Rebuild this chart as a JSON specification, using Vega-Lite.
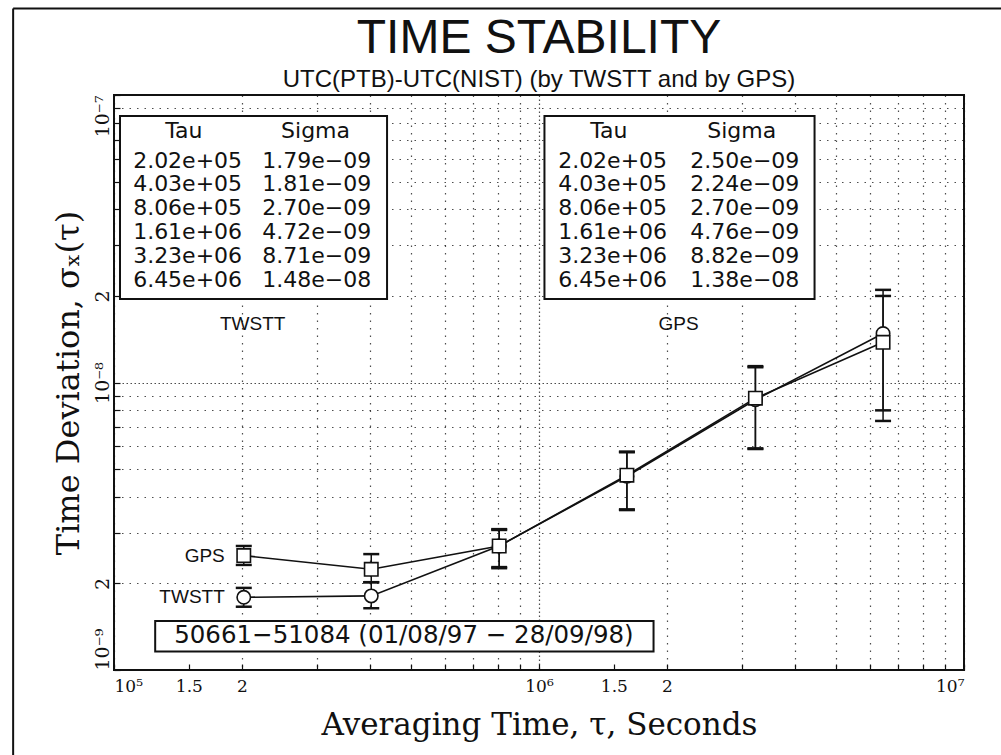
{
  "$schema": "https://vega.github.io/schema/vega-lite/v6.json",
  "width": 850,
  "height": 575,
  "autosize": {"type": "none"},
  "padding": {"left": 114, "top": 95, "right": 37, "bottom": 85},
  "background": "white",
  "config": {
    "view": {"stroke": "#111", "strokeWidth": 2},
    "font": "Liberation Sans"
  },
  "title": {
    "text": "TIME STABILITY",
    "subtitle": "UTC(PTB)-UTC(NIST) (by TWSTT and by GPS)",
    "anchor": "middle",
    "font": "Liberation Sans",
    "fontSize": 48,
    "fontWeight": "normal",
    "color": "#111",
    "subtitleFont": "Liberation Sans",
    "subtitleFontSize": 24,
    "subtitleColor": "#111",
    "offset": -85,
    "subtitlePadding": 5
  },
  "datasets": {
    "stab": [
      {"series": "TWSTT", "tau": 202000, "sigma": 1.79e-9, "lo": 1.66e-9, "hi": 1.93e-9},
      {"series": "TWSTT", "tau": 403000, "sigma": 1.81e-9, "lo": 1.64e-9, "hi": 2.02e-9},
      {"series": "TWSTT", "tau": 806000, "sigma": 2.70e-9, "lo": 2.28e-9, "hi": 3.07e-9},
      {"series": "TWSTT", "tau": 1610000, "sigma": 4.72e-9, "lo": 3.62e-9, "hi": 5.72e-9},
      {"series": "TWSTT", "tau": 3230000, "sigma": 8.71e-9, "lo": 5.9e-9, "hi": 1.13e-8},
      {"series": "TWSTT", "tau": 6450000, "sigma": 1.48e-8, "lo": 7.35e-9, "hi": 2.1e-8},
      {"series": "GPS", "tau": 202000, "sigma": 2.50e-9, "lo": 2.32e-9, "hi": 2.70e-9},
      {"series": "GPS", "tau": 403000, "sigma": 2.24e-9, "lo": 2.02e-9, "hi": 2.53e-9},
      {"series": "GPS", "tau": 806000, "sigma": 2.70e-9, "lo": 2.26e-9, "hi": 3.09e-9},
      {"series": "GPS", "tau": 1610000, "sigma": 4.76e-9, "lo": 3.60e-9, "hi": 5.75e-9},
      {"series": "GPS", "tau": 3230000, "sigma": 8.82e-9, "lo": 5.87e-9, "hi": 1.14e-8},
      {"series": "GPS", "tau": 6450000, "sigma": 1.38e-8, "lo": 8.0e-9, "hi": 2.0e-8}
    ],
    "frameLeft": [
      {"tau": 57900, "sigma": 2.0e-7, "sigma2": 5.0e-10}
    ],
    "frameTop": [
      {"tau": 57900, "tau2": 12300000, "sigma": 2.0e-7}
    ],
    "boxes": [
      {"name": "TWSTT table", "tau": 103300, "tau2": 439000, "sigma": 8.45e-8, "sigma2": 1.95e-8},
      {"name": "GPS table", "tau": 1030000, "tau2": 4450000, "sigma": 8.45e-8, "sigma2": 1.95e-8},
      {"name": "period", "tau": 125000, "tau2": 1860000, "sigma": 1.48e-9, "sigma2": 1.16e-9}
    ],
    "tables": [
      {"text": "Tau", "tau": 146000, "sigma": 7.09e-8},
      {"text": "Sigma", "tau": 298000, "sigma": 7.09e-8},
      {"text": "2.02e+05", "tau": 149000, "sigma": 5.57e-8},
      {"text": "4.03e+05", "tau": 149000, "sigma": 4.64e-8},
      {"text": "8.06e+05", "tau": 149000, "sigma": 3.83e-8},
      {"text": "1.61e+06", "tau": 149000, "sigma": 3.16e-8},
      {"text": "3.23e+06", "tau": 149000, "sigma": 2.60e-8},
      {"text": "6.45e+06", "tau": 149000, "sigma": 2.15e-8},
      {"text": "1.79e−09", "tau": 300000, "sigma": 5.57e-8},
      {"text": "1.81e−09", "tau": 300000, "sigma": 4.64e-8},
      {"text": "2.70e−09", "tau": 300000, "sigma": 3.83e-8},
      {"text": "4.72e−09", "tau": 300000, "sigma": 3.16e-8},
      {"text": "8.71e−09", "tau": 300000, "sigma": 2.60e-8},
      {"text": "1.48e−08", "tau": 300000, "sigma": 2.15e-8},
      {"text": "Tau", "tau": 1460000, "sigma": 7.09e-8},
      {"text": "Sigma", "tau": 3000000, "sigma": 7.09e-8},
      {"text": "2.02e+05", "tau": 1490000, "sigma": 5.57e-8},
      {"text": "4.03e+05", "tau": 1490000, "sigma": 4.64e-8},
      {"text": "8.06e+05", "tau": 1490000, "sigma": 3.83e-8},
      {"text": "1.61e+06", "tau": 1490000, "sigma": 3.16e-8},
      {"text": "3.23e+06", "tau": 1490000, "sigma": 2.60e-8},
      {"text": "6.45e+06", "tau": 1490000, "sigma": 2.15e-8},
      {"text": "2.50e−09", "tau": 3050000, "sigma": 5.57e-8},
      {"text": "2.24e−09", "tau": 3050000, "sigma": 4.64e-8},
      {"text": "2.70e−09", "tau": 3050000, "sigma": 3.83e-8},
      {"text": "4.76e−09", "tau": 3050000, "sigma": 3.16e-8},
      {"text": "8.82e−09", "tau": 3050000, "sigma": 2.60e-8},
      {"text": "1.38e−08", "tau": 3050000, "sigma": 2.15e-8}
    ],
    "period": [
      {"text": "50661−51084 (01/08/97 − 28/09/98)", "tau": 481000, "sigma": 1.31e-9}
    ],
    "captions": [
      {"text": "TWSTT", "tau": 212000, "sigma": 1.52e-8},
      {"text": "GPS", "tau": 2130000, "sigma": 1.52e-8}
    ]
  },
  "encoding": {
    "x": {
      "field": "tau",
      "type": "quantitative",
      "scale": {"type": "log", "domain": [100000, 10000000]},
      "axis": {
        "title": "Averaging Time, τ, Seconds",
        "titleFont": "DejaVu Serif",
        "titleFontSize": 31,
        "titleFontWeight": "normal",
        "titleColor": "#111",
        "titlePadding": 16,
        "values": [100000, 150000, 200000, 300000, 400000, 500000, 600000, 700000, 800000, 900000, 1000000, 1500000, 2000000, 3000000, 4000000, 5000000, 6000000, 7000000, 8000000, 9000000, 10000000],
        "labelExpr": "datum.value == 100000 ? '10⁵' : datum.value == 1000000 ? '10⁶' : datum.value == 10000000 ? '10⁷' : (datum.value == 150000 || datum.value == 1500000) ? '1.5' : (datum.value == 200000 || datum.value == 2000000) ? '2' : ''",
        "labelFont": "DejaVu Serif",
        "labelFontSize": 17,
        "labelColor": "#111",
        "labelFlush": true,
        "labelPadding": 14,
        "domain": false,
        "ticks": true,
        "tickSize": -6,
        "tickColor": "#111",
        "tickWidth": 1.2,
        "grid": true,
        "gridColor": "#111",
        "gridWidth": 1.2,
        "gridOpacity": {"condition": {"test": "datum.value == 150000 || datum.value == 1500000", "value": 0}, "value": 0.75},
        "gridDash": {"condition": {"test": "datum.value == 1000000", "value": [1.5, 2.5]}, "value": [1.5, 6]}
      }
    },
    "y": {
      "field": "sigma",
      "type": "quantitative",
      "scale": {"type": "log", "domain": [1e-9, 1e-7]},
      "axis": {
        "title": "Time Deviation, σₓ(τ)",
        "titleFont": "DejaVu Serif",
        "titleFontSize": 32,
        "titleFontWeight": "normal",
        "titleColor": "#111",
        "titlePadding": 8,
        "values": [1e-9, 2e-9, 3e-9, 4e-9, 5e-9, 6e-9, 7e-9, 8e-9, 9e-9, 1e-8, 2e-8, 3e-8, 4e-8, 5e-8, 6e-8, 7e-8, 8e-8, 9e-8, 1e-7],
        "labelExpr": "datum.value == 1e-9 ? '10⁻⁹' : datum.value == 1e-8 ? '10⁻⁸' : datum.value == 1e-7 ? '10⁻⁷' : (datum.value == 2e-9 || datum.value == 2e-8) ? '2' : ''",
        "labelFont": "DejaVu Serif",
        "labelFontSize": 19,
        "labelColor": "#111",
        "labelAngle": 270,
        "labelBaseline": "bottom",
        "labelAlign": {"condition": [{"test": "datum.value == 1e-9", "value": "left"}, {"test": "datum.value == 1e-7", "value": "right"}], "value": "center"},
        "labelPadding": 8,
        "domain": false,
        "ticks": true,
        "tickSize": -6,
        "tickColor": "#111",
        "tickWidth": 1.2,
        "grid": true,
        "gridColor": "#111",
        "gridWidth": 1.2,
        "gridOpacity": 0.75,
        "gridDash": {"condition": {"test": "datum.value == 1e-8", "value": [1.5, 2.5]}, "value": [1.5, 6]}
      }
    }
  },
  "layer": [
    {
      "data": {"name": "frameLeft"},
      "mark": {"type": "rule", "color": "#111", "strokeWidth": 2},
      "encoding": {
        "y2": {"field": "sigma2"}
      }
    },
    {
      "data": {"name": "frameTop"},
      "mark": {"type": "rule", "color": "#111", "strokeWidth": 2},
      "encoding": {
        "x2": {"field": "tau2"}
      }
    },
    {
      "data": {"name": "boxes"},
      "mark": {"type": "rect", "fill": "white", "stroke": "#111", "strokeWidth": 2},
      "encoding": {
        "x2": {"field": "tau2"},
        "y2": {"field": "sigma2"}
      }
    },
    {
      "data": {"name": "stab"},
      "mark": {"type": "line", "color": "#111", "strokeWidth": 1.6},
      "encoding": {"detail": {"field": "series"}}
    },
    {
      "data": {"name": "stab"},
      "mark": {"type": "rule", "color": "#111", "strokeWidth": 1.5},
      "encoding": {
        "y": {"field": "lo", "type": "quantitative"},
        "y2": {"field": "hi"}
      }
    },
    {
      "data": {"name": "stab"},
      "mark": {"type": "tick", "orient": "horizontal", "color": "#111", "size": 16, "thickness": 2.5, "opacity": 1},
      "encoding": {
        "y": {"field": "lo", "type": "quantitative"}
      }
    },
    {
      "data": {"name": "stab"},
      "mark": {"type": "tick", "orient": "horizontal", "color": "#111", "size": 16, "thickness": 2.5, "opacity": 1},
      "encoding": {
        "y": {"field": "hi", "type": "quantitative"}
      }
    },
    {
      "data": {"name": "stab"},
      "mark": {"type": "point", "filled": true, "fill": "white", "stroke": "#111", "strokeWidth": 1.6, "size": 180, "opacity": 1},
      "encoding": {
        "shape": {"field": "series", "type": "nominal", "scale": {"domain": ["TWSTT", "GPS"], "range": ["circle", "square"]}, "legend": null}
      }
    },
    {
      "data": {"name": "stab"},
      "transform": [{"filter": "datum.tau == 202000"}],
      "mark": {"type": "text", "align": "right", "baseline": "middle", "dx": -19, "font": "Liberation Sans", "fontSize": 19, "color": "#111"},
      "encoding": {"text": {"field": "series"}}
    },
    {
      "data": {"name": "tables"},
      "mark": {"type": "text", "align": "center", "baseline": "alphabetic", "font": "DejaVu Sans", "fontSize": 22, "color": "#111"},
      "encoding": {"text": {"field": "text"}}
    },
    {
      "data": {"name": "period"},
      "mark": {"type": "text", "align": "center", "baseline": "middle", "font": "DejaVu Sans", "fontSize": 24.5, "color": "#111"},
      "encoding": {"text": {"field": "text"}}
    },
    {
      "data": {"name": "captions"},
      "mark": {"type": "text", "align": "center", "baseline": "alphabetic", "font": "Liberation Sans", "fontSize": 19, "color": "#111"},
      "encoding": {"text": {"field": "text"}}
    }
  ]
}
